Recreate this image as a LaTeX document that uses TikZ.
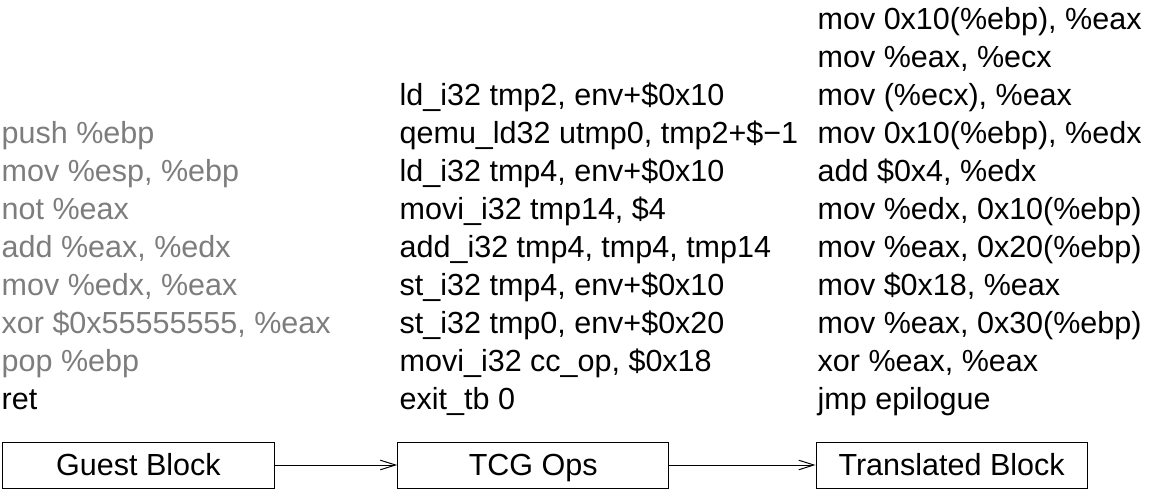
\documentclass[tikz,border=0pt]{standalone}
\usepackage{fontspec}
\setmainfont{Liberation Sans}
\usepackage{tikz}
\usetikzlibrary{arrows.meta,calc}
\definecolor{gst}{RGB}{125,125,125}
\tikzset{
  >={Straight Barb[length=3.8mm,width=2.4mm]},
  blk/.style={rectangle,draw,minimum width=6.78cm,minimum height=1.15cm,inner sep=0pt,text height=15.5pt,text depth=0pt},
  asm/.style={anchor=base west,align=left,inner sep=0pt},
  every picture/.style={line width=0.7pt},
  every node/.style={font=\fontsize{21.7}{27.03}\selectfont},
}
\begin{document}
\begin{tikzpicture}
\useasboundingbox (0,0) rectangle (29.05,12.25);
\node[blk] (GB) at (3.46,0.625){Guest Block}; \node[blk] (TO) at (13.33,0.625){TCG Ops};
\node[blk] (TB) at (23.79,0.625){Translated Block};
\draw[->] (GB)--(TO); \draw[->] (TO)--(TB);
% guest code, translated ops, host code (last lines share one baseline)
\node[asm] (gc) at (0.03,2.0){\color{gst}push \%ebp\\ \color{gst}mov \%esp, \%ebp\\ \color{gst}not \%eax\\
  \color{gst}add \%eax, \%edx\\ \color{gst}mov \%edx, \%eax\\ \color{gst}xor \$0x55555555, \%eax\\
  \color{gst}pop \%ebp\\ ret};
\node[asm] (op) at (9.98,2.0){ld\_i32 tmp2, env+\$0x10\\ qemu\_ld32 utmp0, tmp2+\$−1\\ ld\_i32 tmp4, env+\$0x10\\
  movi\_i32 tmp14, \$4\\ add\_i32 tmp4, tmp4, tmp14\\ st\_i32 tmp4, env+\$0x10\\ st\_i32 tmp0, env+\$0x20\\
  movi\_i32 cc\_op, \$0x18\\ exit\_tb 0};
\node[asm] (hc) at (20.43,2.0){mov 0x10(\%ebp), \%eax\\ mov \%eax, \%ecx\\ mov (\%ecx), \%eax\\
  mov 0x10(\%ebp), \%edx\\ add \$0x4, \%edx\\ mov \%edx, 0x10(\%ebp)\\ mov \%eax, 0x20(\%ebp)\\
  mov \$0x18, \%eax\\ mov \%eax, 0x30(\%ebp)\\ xor \%eax, \%eax\\ jmp epilogue};
\end{tikzpicture}
\end{document}
